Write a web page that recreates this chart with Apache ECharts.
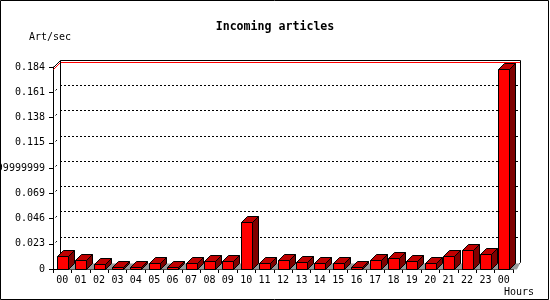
<!DOCTYPE html>
<html><head><meta charset="utf-8">
<script src="https://cdn.jsdelivr.net/npm/echarts@6/dist/echarts.min.js"></script>
<style>html,body{margin:0;padding:0;background:#fff}#c{width:550px;height:300px}</style>
</head><body><div id="c"></div>
<script>
const titleText = "Incoming articles";
const yUnit = "Art/sec";
const xUnit = "Hours";
const hours = ["00","01","02","03","04","05","06","07","08","09","10","11","12","13","14","15","16","17","18","19","20","21","22","23","00"];
const artPerSec = [0.0118,0.0082,0.0046,0.0018,0.0021,0.0052,0.0016,0.0052,0.0073,0.0073,0.0425,0.0052,0.0082,0.0061,0.0052,0.0052,0.0016,0.0082,0.0100,0.0075,0.0052,0.0116,0.0170,0.0134,0.1822];
const yTickLabels = ["0","0.023","0.046","0.069","0.09199999999999999","0.115","0.138","0.161","0.184"];
const yMax = 0.184;
const yStep = 0.023;

const mono = "'DejaVu Sans Mono', monospace";
const D = 7;      // depth of the back plane
const BD = 6;     // depth of the bars
const px = v => Math.round(v) + 0.5;

const chart = echarts.init(document.getElementById('c'), null, {renderer: 'canvas'});

function seg(a, b, style) {
  return {type: 'polyline', shape: {points: [a, b]}, style: Object.assign({stroke: '#000', lineWidth: 1, fill: null}, style || {}), silent: true};
}

const frameSeries = {
  type: 'custom', xAxisIndex: 0, yAxisIndex: 0, clip: false, z: 2, silent: true,
  data: [[0, 0]],
  renderItem(params, api) {
    const cs = params.coordSys;
    const L = px(cs.x), R = px(cs.x + cs.width), T = px(cs.y), B = px(cs.y + cs.height);
    const ch = [];
    for (let k = 1; k < yTickLabels.length - 1; k++) {
      const y = px(api.coord([0, k * yStep])[1]);
      ch.push(seg([L + 2, y - 2], [L + 4, y - 4], {lineDash: [2, 2]}));
    }
    const vMax = Math.max.apply(null, artPerSec);
    const ym = px(api.coord([0, vMax])[1]);
    ch.push({type: 'polyline', shape: {points: [[L, ym], [L + D, ym - D], [R + D, ym - D]]}, style: {stroke: '#ff0000', lineWidth: 1, fill: null}, silent: true});
    ch.push({type: 'polyline', shape: {points: [[L + D, B - D], [L + D, T - D], [R + D, T - D], [R + D, B - D], [R, B]]}, style: {stroke: '#000', lineWidth: 1, fill: null}, silent: true});
    ch.push(seg([L, T], [L + D, T - D]));
    return {type: 'group', children: ch};
  }
};

const barSeries = {
  type: 'custom', xAxisIndex: 0, yAxisIndex: 0, clip: false, z: 3, silent: true,
  encode: {x: 0, y: 1},
  data: hours.map((h, i) => [i, artPerSec[i]]),
  renderItem(params, api) {
    const i = api.value(0), v = api.value(1);
    const cs = params.coordSys;
    const rightLimit = cs.x + cs.width + D;
    const top = api.coord([i, v]);
    const base = api.coord([i, 0]);
    const cw = api.size([1, 0])[0];
    const w = Math.round(cw * 0.6);
    const g = cw - w;
    const x0 = px(top[0] - w / 2), x1 = x0 + w;
    const yt = px(top[1]), yb = px(base[1]);
    const lim = x => Math.min(x, rightLimit);
    return {
      type: 'group',
      children: [
        {type: 'polygon', shape: {points: [[x1, yb], [lim(x1 + BD), yb - BD], [lim(x1 + BD + g), yb - BD], [lim(x1 + g), yb]]}, style: {fill: '#999999', stroke: null}},
        {type: 'polygon', shape: {points: [[x0, yt], [x1, yt], [x1, yb], [x0, yb]]}, style: {fill: '#ff0000', stroke: '#000', lineWidth: 1}},
        {type: 'polygon', shape: {points: [[x1, yt], [x1 + BD, yt - BD], [x1 + BD, yb - BD], [x1, yb]]}, style: {fill: '#800000', stroke: '#000', lineWidth: 1}},
        {type: 'polygon', shape: {points: [[x0, yt], [x0 + BD, yt - BD], [x1 + BD, yt - BD], [x1, yt]]}, style: {fill: '#c00000', stroke: '#000', lineWidth: 1}}
      ]
    };
  }
};

const option = {
  animation: false,
  backgroundColor: '#ffffff',
  title: {
    text: titleText, left: 'center', top: 21, padding: 0,
    textStyle: {fontFamily: mono, fontWeight: 'bold', fontSize: 11.6, color: '#000'}
  },
  grid: [
    {left: 53, top: 67, width: 460, height: 202, containLabel: false, outerBoundsMode: 'none'},
    {left: 60, top: 60, width: 460, height: 202, containLabel: false, outerBoundsMode: 'none'}
  ],
  xAxis: [
    {gridIndex: 0, type: 'category', data: hours, boundaryGap: true,
     axisLine: {show: true, lineStyle: {color: '#000', width: 1}},
     axisTick: {show: true, length: 4, lineStyle: {color: '#000'}},
     axisLabel: {interval: 0, margin: 6, fontFamily: mono, fontSize: 10, color: '#000'},
     splitLine: {show: false}},
    {gridIndex: 1, type: 'category', data: hours, show: false}
  ],
  yAxis: [
    {gridIndex: 0, type: 'value', min: 0, max: yMax, interval: yStep,
     axisLine: {show: true, lineStyle: {color: '#000', width: 1}},
     axisTick: {show: true, length: 4, lineStyle: {color: '#000'}},
     axisLabel: {margin: 8, fontFamily: mono, fontSize: 10, color: '#000',
                 formatter: v => yTickLabels[Math.round(v / yStep)]},
     splitLine: {show: false}},
    {gridIndex: 1, type: 'value', min: 0, max: yMax, interval: yStep,
     axisLine: {show: false}, axisTick: {show: false}, axisLabel: {show: false},
     splitLine: {show: true, showMinLine: false, showMaxLine: false,
                 lineStyle: {color: '#000', width: 1, type: [2, 2]}}}
  ],
  graphic: [
    {type: 'text', left: 29, top: 32, style: {text: yUnit, font: '10px ' + mono, fill: '#000'}, silent: true},
    {type: 'text', left: 504, top: 287, style: {text: xUnit, font: '10px ' + mono, fill: '#000'}, silent: true},
    {type: 'rect', shape: {x: 0.5, y: 0.5, width: 548, height: 299}, style: {fill: null, stroke: '#000', lineWidth: 1}, silent: true, z: 100}
  ],
  series: [frameSeries, barSeries]
};
chart.setOption(option);
</script>
</body></html>
